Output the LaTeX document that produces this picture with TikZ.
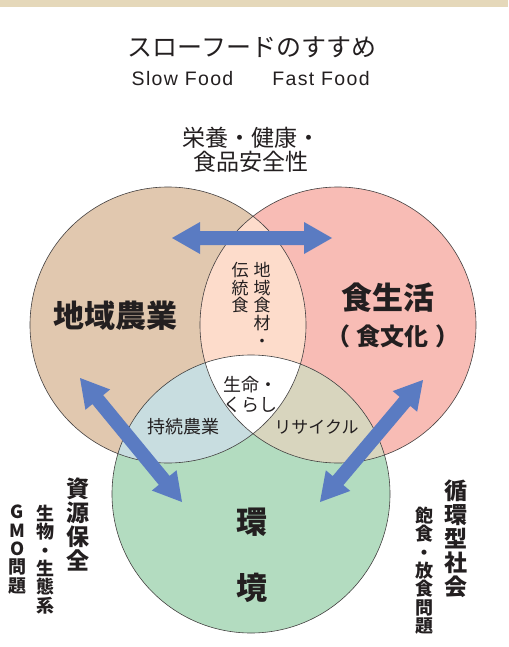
\documentclass[tikz,border=0pt]{standalone}
\usepackage{fontspec}
\newfontfamily\jp{Noto Sans CJK JP}
\newfontfamily\latinsans[LetterSpace=7]{Liberation Sans}
\usetikzlibrary{calc}
\definecolor{band}{HTML}{E5D8BA}
\definecolor{colL}{HTML}{E1C8AF}
\definecolor{colR}{HTML}{F8BCB5}
\definecolor{colB}{HTML}{B3DCC0}
\definecolor{colLR}{HTML}{FDDCCB}
\definecolor{colLB}{HTML}{C8DDE0}
\definecolor{colRB}{HTML}{D8D5BE}
\definecolor{arrowblue}{HTML}{5A7BC2}
\definecolor{ink}{HTML}{231F20}
\newcommand{\fatarrow}[3]{%
  \coordinate (#1ha) at ($(#2)!28pt!(#3)$);
  \coordinate (#1hb) at ($(#3)!28pt!(#2)$);
  \fill[arrowblue] (#2) -- ($(#1ha)!16pt!90:(#3)$) -- ($(#1ha)!7pt!90:(#3)$)
    -- ($(#1hb)!7pt!-90:(#2)$) -- ($(#1hb)!16pt!-90:(#2)$) -- (#3)
    -- ($(#1hb)!16pt!90:(#2)$) -- ($(#1hb)!7pt!90:(#2)$)
    -- ($(#1ha)!7pt!-90:(#3)$) -- ($(#1ha)!16pt!-90:(#3)$) -- cycle;}
\begin{document}
\begin{tikzpicture}[x=1pt,y=-1pt,
  every node/.style={inner sep=0pt, text=ink},
  outline/.style={draw=ink!85, line width=0.6pt},
  bigbold/.style={font=\jp\bfseries\fontsize{31}{33}\selectfont},
  inner/.style={font=\jp\fontsize{18}{20}\selectfont, align=center},
  vhead/.style={font=\jp\bfseries\fontsize{23}{24}\selectfont, align=center, anchor=north},
  vsub/.style={font=\jp\bfseries\fontsize{18}{18.3}\selectfont, align=center, anchor=north},
  vinner/.style={font=\jp\fontsize{17}{17.7}\selectfont, align=center, anchor=north}]
\useasboundingbox (0,0) rectangle (508,647);
\fill[band] (0,0) rectangle (508,7);
\coordinate (cL) at (168,325);
\coordinate (cR) at (338,325);
\coordinate (cB) at (251,494);
% circles
\fill[colL] (cL) circle[radius=138pt];
\fill[colR] (cR) circle[radius=138pt];
\fill[colB] (cB) circle[radius=139pt];
\begin{scope}
  \clip (cL) circle[radius=138pt];
  \fill[colLR] (cR) circle[radius=138pt];
  \fill[colLB] (cB) circle[radius=139pt];
\end{scope}
\begin{scope}
  \clip (cR) circle[radius=138pt];
  \fill[colRB] (cB) circle[radius=139pt];
\end{scope}
\begin{scope}
  \clip (cL) circle[radius=138pt];
  \clip (cR) circle[radius=138pt];
  \fill[white] (cB) circle[radius=139pt];
\end{scope}
\draw[outline] (cL) circle[radius=138pt];
\draw[outline] (cR) circle[radius=138pt];
\draw[outline] (cB) circle[radius=139pt];
% arrows
\coordinate (t1) at (172,238);
\coordinate (t2) at (332,238);
\coordinate (l1) at (80,378);
\coordinate (l2) at (182,502);
\coordinate (r1) at (423,380);
\coordinate (r2) at (320,502);
\fatarrow{ta}{t1}{t2}
\fatarrow{la}{l1}{l2}
\fatarrow{ra}{r1}{r2}
% titles
\node[font=\jp\fontsize{25}{27}\selectfont] (title) at (252,47) {スローフードのすすめ};
\node[font=\latinsans\fontsize{19.5}{22}\selectfont] (slow) at (182.5,78.5) {Slow Food};
\node[font=\latinsans\fontsize{19.5}{22}\selectfont] (fast) at (321,78.5) {Fast Food};
\node[font=\jp\fontsize{23}{24}\selectfont, align=center] (health) at (251,149.5) {栄養・健康・\\食品安全性};
% circle labels
\node[bigbold] (agri) at (115,316) {地域農業};
\node[bigbold] (life) at (388,298) {食生活};
\node[font=\jp\bfseries\fontsize{24}{26}\selectfont] (culture) at (393,336) {（\kern7pt 食文化\kern7pt）};
\node[bigbold] (env1) at (252,522) {環};
\node[bigbold] (env2) at (252,588) {境};
% overlaps
\node[vinner] (trad) at (240,262) {伝\\統\\食};
\node[vinner] (local) at (262,262) {地\\域\\食\\材\\・};
\node[inner] (core) at (250,395) {生命・\\くらし};
\node[inner] (sust) at (183.5,427) {持続農業};
\node[font=\jp\fontsize{17}{20}\selectfont] (recy) at (316.5,427) {リサイクル};
% side texts
\node[vhead] (res) at (77.5,478) {資\\源\\保\\全};
\node[vsub] (bio) at (45,505) {生\\物\\・\\生\\態\\系};
\node[vsub] (gmo) at (17.5,505) {G\\M\\O\\問\\題};
\node[vhead] (circ) at (456,480) {循\\環\\型\\社\\会};
\node[vsub] (glut) at (424,507) {飽\\食\\・\\放\\食\\問\\題};
\end{tikzpicture}
\end{document}
